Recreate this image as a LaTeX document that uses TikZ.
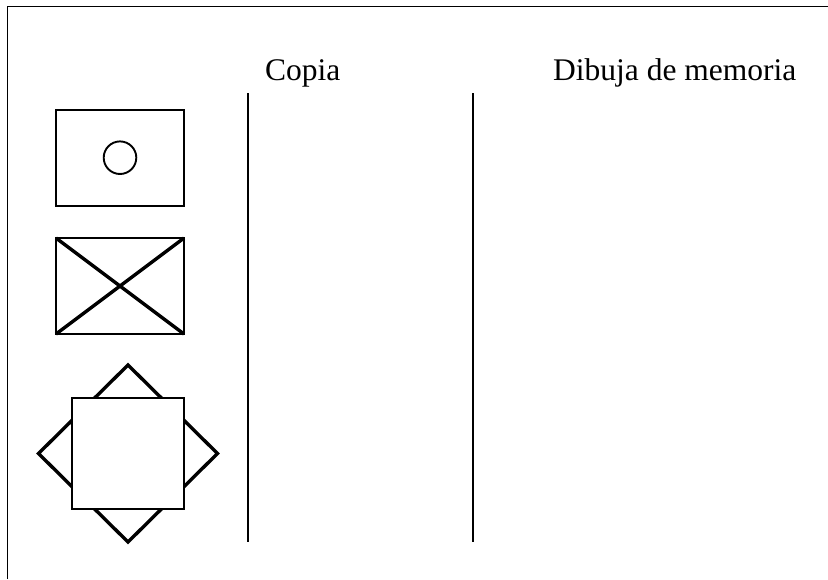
\documentclass[tikz,border=0pt]{standalone}
\usepackage{fontspec}
\setmainfont{Liberation Serif}
\begin{document}
\begin{tikzpicture}[x=1pt,y=-1pt,
  thin line/.style={line width=1.9pt},
  thick line/.style={line width=3.4pt},
  label text/.style={anchor=base west,inner sep=0pt,font=\fontsize{31.5}{36}\selectfont}]
\useasboundingbox (0,0) rectangle (828,579);
% frame (top and left visible)
\coordinate (fbl) at (7.5,579);
\coordinate (ftl) at (7.5,6.5);
\coordinate (ftr) at (828,6.5);
\draw[thin line] (fbl) -- (ftl) -- (ftr);
% headings
\node[label text] (copia) at (265,80) {Copia};
\node[label text] (dibuja) at (553,80) {Dibuja de memoria};
% column separators
\coordinate (s1t) at (248,93); \coordinate (s1b) at (248,542);
\coordinate (s2t) at (473,93); \coordinate (s2b) at (473,542);
\draw[thin line] (s1t) -- (s1b);
\draw[thin line] (s2t) -- (s2b);
% figure 1: rectangle with circle
\draw[thin line] (56,110) rectangle (184,206);
\draw[thin line] (120,157.7) circle (16.3);
% figure 2: rectangle with X
\coordinate (b2a) at (56,238); \coordinate (b2b) at (184,238);
\coordinate (b2c) at (184,334); \coordinate (b2d) at (56,334);
\draw[thin line] (b2a) rectangle (b2c);
\draw[thick line] (b2a) -- (b2c);
\draw[thick line] (b2b) -- (b2d);
% figure 3: diamond behind square
\draw[thick line] (128,365) -- (217.5,453.5) -- (128,542) -- (38.5,453.5) -- cycle;
\filldraw[thin line,fill=white] (72,398) rectangle (184,509);
\end{tikzpicture}
\end{document}
